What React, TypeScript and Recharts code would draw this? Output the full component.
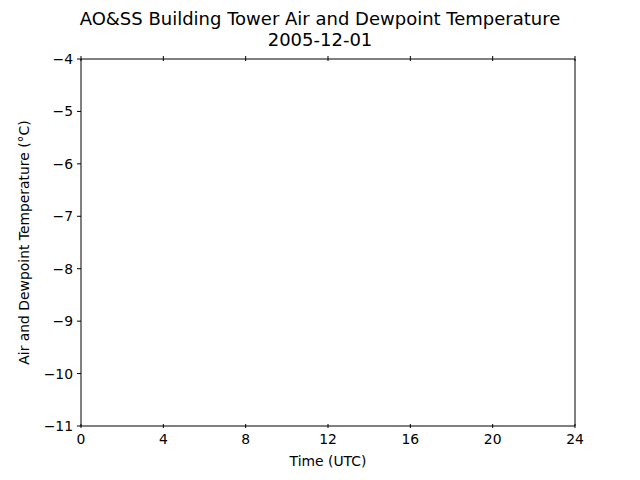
import React from "react";
import { LineChart, Line, XAxis, YAxis } from "recharts";

// Hours (UTC) of the day; the reference shows no recorded values for this date
const hours = [0, 24];
const airTempValues: (number | null)[] = [null, null];
const dewpointValues: (number | null)[] = [null, null];
const hourTicks = [0, 4, 8, 12, 16, 20, 24];
const tempTicks = [-11, -10, -9, -8, -7, -6, -5, -4];

const data = hours.map((h, i) => ({ hour: h, air: airTempValues[i], dew: dewpointValues[i] }));

const FONT = "DejaVu Sans, sans-serif";
const minus = (v: number) => String(v).replace("-", "\u2212");

const BottomTick = (props: any) => {
  const { x, y, payload } = props;
  return (
    <g>
      <line x1={x} x2={x} y1={y - 2} y2={y + 2} stroke="#000" strokeWidth={1} />
      <text x={x} y={y + 18} textAnchor="middle" fontSize={13.9} fontFamily={FONT} fill="#000">
        {payload.value}
      </text>
    </g>
  );
};

const TopTick = (props: any) => {
  const { x, y } = props;
  return <line x1={x} x2={x} y1={y - 3} y2={y + 2} stroke="#000" strokeWidth={1} />;
};

const LeftTick = (props: any) => {
  const { x, y, payload } = props;
  return (
    <g>
      <line x1={x - 4} x2={x} y1={y} y2={y} stroke="#000" strokeWidth={1} />
      <text x={x - 8} y={y + 5} textAnchor="end" fontSize={13.9} fontFamily={FONT} fill="#000">
        {minus(payload.value)}
      </text>
    </g>
  );
};

export default function App() {
  return (
    <div style={{ position: "absolute", left: 0, top: 0, width: 640, height: 480, background: "#fff" }}>
      <div
        style={{
          position: "absolute",
          left: 0,
          top: 8,
          width: 640,
          textAlign: "center",
          fontFamily: FONT,
          fontSize: 18,
          lineHeight: "21px",
          color: "#000",
        }}
      >
        AO&amp;SS Building Tower Air and Dewpoint Temperature
        <br />
        2005-12-01
      </div>
      <div style={{ position: "absolute", left: 0, top: 0 }}>
        <LineChart width={640} height={480} data={data} margin={{ top: 58, right: 64, bottom: 53, left: 80 }}>
          <XAxis
            xAxisId="b"
            dataKey="hour"
            type="number"
            domain={[0, 24]}
            ticks={hourTicks}
            allowDataOverflow
            height={1}
            tickSize={0}
            tickMargin={0}
            tickLine={false}
            tick={<BottomTick />}
            axisLine={{ stroke: "#000", strokeWidth: 1 }}
            label={{
              value: "Time (UTC)",
              position: "insideBottom",
              offset: -39,
              fill: "#000",
              fontSize: 13.9,
              fontFamily: FONT,
            }}
          />
          <XAxis
            xAxisId="t"
            orientation="top"
            dataKey="hour"
            type="number"
            domain={[0, 24]}
            ticks={hourTicks}
            allowDataOverflow
            height={1}
            tickSize={0}
            tickMargin={0}
            tickLine={false}
            tick={<TopTick />}
            axisLine={{ stroke: "#000", strokeWidth: 1 }}
          />
          <YAxis
            yAxisId="l"
            type="number"
            domain={[-11, -4]}
            ticks={tempTicks}
            allowDataOverflow
            width={1}
            tickSize={0}
            tickMargin={0}
            tickLine={false}
            tick={<LeftTick />}
            axisLine={{ stroke: "#000", strokeWidth: 1 }}
            label={{
              value: "Air and Dewpoint Temperature (\u00b0C)",
              angle: -90,
              position: "insideLeft",
              offset: -56,
              style: { textAnchor: "middle" },
              fill: "#000",
              fontSize: 13.9,
              fontFamily: FONT,
            }}
          />
          <YAxis
            yAxisId="r"
            orientation="right"
            type="number"
            domain={[-11, -4]}
            ticks={tempTicks}
            allowDataOverflow
            width={1}
            tick={false}
            tickLine={false}
            axisLine={{ stroke: "#000", strokeWidth: 1 }}
          />
          <Line xAxisId="b" yAxisId="l" dataKey="air" stroke="#1f77b4" dot={false} isAnimationActive={false} />
          <Line xAxisId="b" yAxisId="l" dataKey="dew" stroke="#2ca02c" dot={false} isAnimationActive={false} />
        </LineChart>
      </div>
    </div>
  );
}
